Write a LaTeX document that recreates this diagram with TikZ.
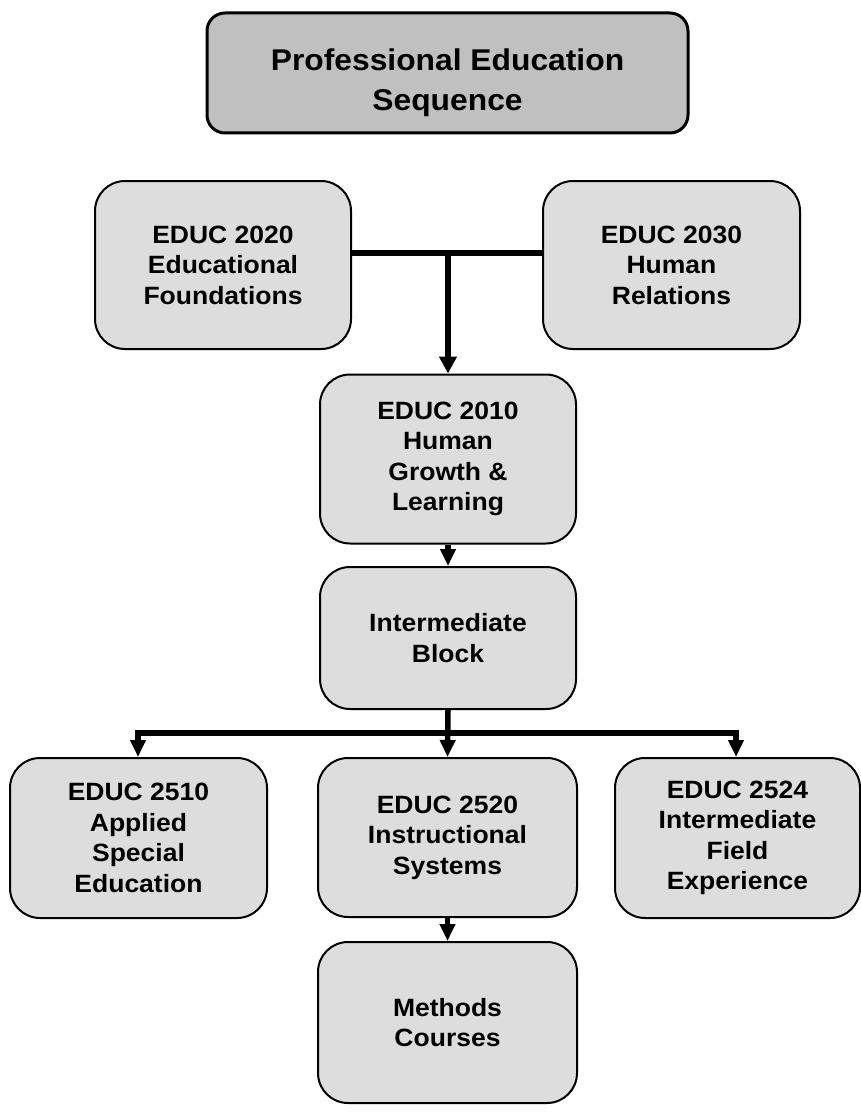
\documentclass[tikz,border=0pt]{standalone}
\usepackage{fontspec}
\setmainfont{Liberation Sans}[FakeStretch=1.06]
\usetikzlibrary{arrows.meta}
\definecolor{boxgray}{HTML}{DDDDDD}
\definecolor{titlegray}{HTML}{C0C0C0}
\begin{document}
\begin{tikzpicture}[x=1pt,y=1pt,
  box/.style={draw, line width=2pt, rounded corners=30pt, fill=boxgray, align=center,
    font=\bfseries\fontsize{25}{30.5}\selectfont, inner sep=0pt},
  titlebox/.style={draw, line width=3pt, rounded corners=18pt, fill=titlegray, align=center,
    font=\bfseries\fontsize{30}{40}\selectfont, inner sep=0pt},
  conn/.style={line width=6pt},
  arr/.style={line width=6pt, -{Triangle[length=17pt,width=17pt]}},
  arrs/.style={line width=5.5pt, -{Triangle[length=17pt,width=15pt]}}]
\useasboundingbox (0,0) rectangle (861,-1113);
\node[titlebox, minimum width=481pt, minimum height=120pt] (title) at (447.5,-73) {\rule{0pt}{42pt}Professional Education\\Sequence};
\node[box, minimum width=256pt, minimum height=168pt] (e2020) at (223,-265) {EDUC 2020\\Educational\\Foundations};
\node[box, minimum width=257pt, minimum height=168pt] (e2030) at (671.5,-265) {EDUC 2030\\Human\\Relations};
\node[box, minimum width=256pt, minimum height=169pt] (e2010) at (448,-459) {EDUC 2010\\Human\\Growth \&\\Learning};
\node[box, minimum width=256pt, minimum height=142pt] (inter) at (448,-638) {Intermediate\\Block};
\node[box, minimum width=257pt, minimum height=160pt] (e2510) at (138.5,-838) {EDUC 2510\\Applied\\Special\\Education};
\node[box, minimum width=259pt, minimum height=159pt] (e2520) at (447.5,-837.5) {EDUC 2520\\Instructional\\Systems};
\node[box, minimum width=245pt, minimum height=160pt] (e2524) at (737.5,-838) {EDUC 2524\\Intermediate\\Field\\Experience};
\node[box, minimum width=259pt, minimum height=161pt] (meth) at (447.5,-1022.5) {Methods\\Courses};
\coordinate (j1) at (448,-253);
\draw[conn] (e2020.east|-j1) -- (e2030.west|-j1);
\draw[arr] ([yshift=3pt]j1) -- (e2010.north);
\draw[arrs] (e2010.south) -- (inter.north);
\coordinate (j2) at (448,-733);
\coordinate (jl) at (138,-733);
\coordinate (jr) at (736,-733);
\draw[arrs] (inter.south) -- (e2520.north);
\draw[conn] ([xshift=-2.75pt]jl) -- ([xshift=2.75pt]jr);
\draw[arrs] ([yshift=3pt]jl) -- (jl|-e2510.north);
\draw[arrs] ([yshift=3pt]jr) -- (jr|-e2524.north);
\draw[arrs] (e2520.south) -- (meth.north);
\end{tikzpicture}
\end{document}
